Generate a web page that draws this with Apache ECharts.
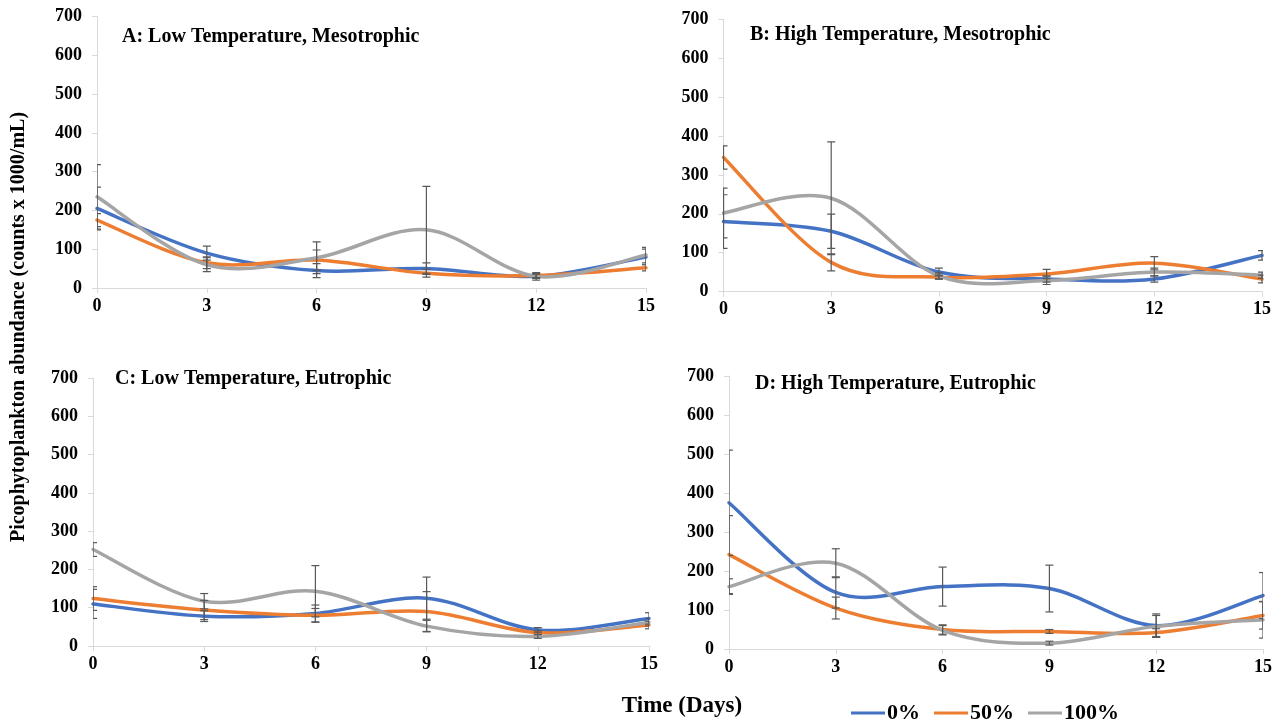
<!DOCTYPE html>
<html>
<head>
<meta charset="utf-8">
<script src="https://cdn.jsdelivr.net/npm/echarts@6/dist/echarts.min.js"></script>
<style>
html,body{margin:0;padding:0;background:#fff;}
#chart{width:1287px;height:723px;}
</style>
</head>
<body>
<div id="chart"></div>
<script>
// ---------- DATA ----------
const days = [0, 3, 6, 9, 12, 15];
const seriesNames = ['0%', '50%', '100%'];
const panelTitles = [
  'A: Low Temperature, Mesotrophic',
  'B: High Temperature, Mesotrophic',
  'C: Low Temperature, Eutrophic',
  'D: High Temperature, Eutrophic'
];
const yAxisTitle = 'Picophytoplankton abundance (counts x 1000/mL)';
const xAxisTitle = 'Time (Days)';

// Panel A
const A_0     = [205, 90, 45, 50, 30, 80];
const A_0_err = [55, 18, 18, 15, 6, 20];
const A_50     = [175, 65, 72, 38, 32, 52];
const A_50_err = [17, 15, 26, 10, 5, 8];
const A_100     = [235, 60, 78, 150, 30, 85];
const A_100_err = [83, 18, 41, 112, 10, 20];
// Panel B
const B_0     = [180, 155, 50, 32, 32, 93];
const B_0_err = [69, 44, 10, 8, 8, 12];
const B_50     = [345, 75, 37, 45, 73, 32];
const B_50_err = [30, 22, 5, 12, 17, 10];
const B_100     = [202, 240, 40, 28, 50, 42];
const B_100_err = [64, 145, 8, 10, 10, 8];
// Panel C
const C_0     = [110, 78, 85, 125, 42, 72];
const C_0_err = [38, 14, 22, 55, 6, 15];
const C_50     = [124, 94, 80, 90, 35, 55];
const C_50_err = [31, 25, 18, 52, 5, 10];
const C_100     = [252, 117, 143, 52, 25, 62];
const C_100_err = [18, 20, 67, 15, 5, 10];
// Panel D
const D_0     = [375, 145, 160, 155, 60, 137];
const D_0_err = [135, 40, 50, 60, 30, 59];
const D_50     = [242, 105, 50, 45, 42, 86];
const D_50_err = [100, 28, 12, 5, 10, 35];
const D_100     = [160, 220, 48, 15, 58, 75];
const D_100_err = [20, 37, 12, 5, 28, 47];

// ---------- LAYOUT / STYLE ----------
const colors = ['#4472C4', '#ED7D31', '#A5A5A5'];
const FONT = '"Liberation Serif", "Times New Roman", serif';
const panelValues = [[A_0, A_50, A_100], [B_0, B_50, B_100], [C_0, C_50, C_100], [D_0, D_50, D_100]];
const panelErrors = [[A_0_err, A_50_err, A_100_err], [B_0_err, B_50_err, B_100_err], [C_0_err, C_50_err, C_100_err], [D_0_err, D_50_err, D_100_err]];
const grids = [
  {left: 97, top: 16.5, width: 549, height: 271.5},
  {left: 723.5, top: 19.5, width: 538.5, height: 272},
  {left: 93, top: 378, width: 556, height: 268},
  {left: 729, top: 376, width: 534, height: 273}
];
const titlePos = [[122, 37], [750, 35], [115, 379], [755, 384]];

const axisGray = '#D9D9D9';
const xAxes = [], yAxes = [], series = [], graphics = [];

// Smooth (Catmull-Rom style, like the spreadsheet's smoothed line) through points given in pixel space
function smoothPath(pts) {
  let d = 'M' + pts[0][0] + ',' + pts[0][1];
  const n = pts.length;
  for (let i = 0; i < n - 1; i++) {
    const p0 = pts[i - 1] || pts[i];
    const p1 = pts[i];
    const p2 = pts[i + 1];
    const p3 = pts[i + 2] || pts[i + 1];
    const c1x = p1[0] + (p2[0] - p0[0]) / 6, c1y = p1[1] + (p2[1] - p0[1]) / 6;
    const c2x = p2[0] - (p3[0] - p1[0]) / 6, c2y = p2[1] - (p3[1] - p1[1]) / 6;
    d += ' C' + c1x + ',' + c1y + ' ' + c2x + ',' + c2y + ' ' + p2[0] + ',' + p2[1];
  }
  return d;
}

grids.forEach((g, i) => {
  xAxes.push({
    type: 'value', gridIndex: i, min: 0, max: 15, interval: 3,
    axisLine: {show: true, lineStyle: {color: axisGray, width: 1}},
    axisTick: {show: true, length: 5, lineStyle: {color: axisGray}},
    splitLine: {show: false},
    axisLabel: {color: '#000', fontFamily: FONT, fontWeight: 'bold', fontSize: 18, margin: 9, showMinLabel: true, showMaxLabel: true}
  });
  yAxes.push({
    type: 'value', gridIndex: i, min: 0, max: 700, interval: 100,
    axisLine: {show: true, lineStyle: {color: axisGray, width: 1}},
    axisTick: {show: true, length: 5, lineStyle: {color: axisGray}},
    splitLine: {show: false},
    axisLabel: {color: '#000', fontFamily: FONT, fontWeight: 'bold', fontSize: 18, margin: 15}
  });
  for (let s = 0; s < 3; s++) {
    const vals = panelValues[i][s];
    series.push({
      type: 'custom', name: seriesNames[s], xAxisIndex: i, yAxisIndex: i,
      data: days.map((d, k) => [d, vals[k]]),
      itemStyle: {color: colors[s]},
      z: 2 + s,
      renderItem: function (params, api) {
        if (params.dataIndex !== 0) return null;
        const pts = days.map((d, k) => api.coord([d, vals[k]]));
        return {
          type: 'path',
          shape: {pathData: smoothPath(pts)},
          style: {stroke: colors[s], lineWidth: 3.5, fill: null, lineCap: 'round', lineJoin: 'round'}
        };
      }
    });
  }
  const errData = [];
  for (let s = 0; s < 3; s++) {
    days.forEach((d, k) => errData.push([d, panelValues[i][s][k], panelErrors[i][s][k]]));
  }
  series.push({
    type: 'custom', xAxisIndex: i, yAxisIndex: i, clip: true, z: 6,
    data: errData,
    renderItem: function (params, api) {
      const x = api.value(0), y = api.value(1), e = api.value(2);
      const t = api.coord([x, y + e]);
      const b = api.coord([x, y - e]);
      const hw = 4;
      const st = {stroke: '#595959', lineWidth: 1.2};
      return {type: 'group', children: [
        {type: 'line', shape: {x1: t[0], y1: t[1], x2: b[0], y2: b[1]}, style: st},
        {type: 'line', shape: {x1: t[0] - hw, y1: t[1], x2: t[0] + hw, y2: t[1]}, style: st},
        {type: 'line', shape: {x1: b[0] - hw, y1: b[1], x2: b[0] + hw, y2: b[1]}, style: st}
      ]};
    }
  });
  graphics.push({
    type: 'text', x: titlePos[i][0], y: titlePos[i][1],
    style: {text: panelTitles[i], fill: '#000', font: 'bold 20px ' + FONT, textVerticalAlign: 'middle', textAlign: 'left'}
  });
});

graphics.push({
  type: 'text', x: 19, y: 327, rotation: Math.PI / 2,
  style: {text: yAxisTitle, fill: '#000', font: 'bold 20px ' + FONT, textAlign: 'center', textVerticalAlign: 'middle'}
});
graphics.push({
  type: 'text', x: 682, y: 706,
  style: {text: xAxisTitle, fill: '#000', font: 'bold 23px ' + FONT, textAlign: 'center', textVerticalAlign: 'middle'}
});

const chart = echarts.init(document.getElementById('chart'), null, {renderer: 'canvas'});
chart.setOption({
  animation: false,
  backgroundColor: '#fff',
  grid: grids,
  xAxis: xAxes,
  yAxis: yAxes,
  legend: {
    data: seriesNames, left: 851, top: 702, padding: 0, itemWidth: 34, itemHeight: 14, itemGap: 14,
    icon: 'path://M0,6 L34,6 L34,9 L0,9 Z',
    textStyle: {color: '#000', fontFamily: FONT, fontWeight: 'bold', fontSize: 22, padding: [0, 0, 0, -3]}
  },
  graphic: graphics,
  series: series
});
</script>
</body>
</html>
